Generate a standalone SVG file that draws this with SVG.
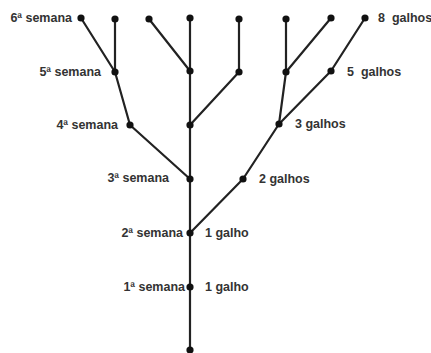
<svg xmlns="http://www.w3.org/2000/svg" width="431" height="353" viewBox="0 0 431 353">
<style>
.e{stroke:#222;stroke-width:2.2;fill:none;stroke-linecap:round}
.n{fill:#111}
text{font-family:"Liberation Sans",Arial,sans-serif;font-weight:bold;font-size:12.5px;fill:#333;dominant-baseline:central;white-space:pre}
.r{text-anchor:end}
</style>
<rect width="431" height="353" fill="#fff"/>
<g id="connectors">
<line class="e" x1="81" y1="18" x2="115" y2="72"/>
<line class="e" x1="115" y1="19" x2="115" y2="72"/>
<line class="e" x1="115" y1="72" x2="130" y2="125"/>
<line class="e" x1="130" y1="125" x2="190" y2="179"/>
<line class="e" x1="149" y1="19" x2="190" y2="71"/>
<line class="e" x1="190" y1="18" x2="190" y2="350"/>
<line class="e" x1="239" y1="19" x2="239" y2="72"/>
<line class="e" x1="239" y1="72" x2="190" y2="125"/>
<line class="e" x1="286" y1="19" x2="286" y2="72"/>
<line class="e" x1="331" y1="18" x2="286" y2="72"/>
<line class="e" x1="286" y1="72" x2="279" y2="124"/>
<line class="e" x1="365" y1="18" x2="331" y2="71"/>
<line class="e" x1="331" y1="71" x2="279" y2="124"/>
<line class="e" x1="279" y1="124" x2="243" y2="179"/>
<line class="e" x1="243" y1="179" x2="190" y2="233"/>
</g>
<g id="n6a"><circle class="n" cx="81" cy="18" r="3.6"/><text class="r" x="72" y="18">6ª semana</text></g>
<g id="n6b"><circle class="n" cx="115" cy="19" r="3.6"/></g>
<g id="n6c"><circle class="n" cx="149" cy="19" r="3.6"/></g>
<g id="n6d"><circle class="n" cx="190" cy="18" r="3.6"/></g>
<g id="n6e"><circle class="n" cx="239" cy="19" r="3.6"/></g>
<g id="n6f"><circle class="n" cx="286" cy="19" r="3.6"/></g>
<g id="n6g"><circle class="n" cx="331" cy="18" r="3.6"/></g>
<g id="n6h"><circle class="n" cx="365" cy="18" r="3.6"/><text x="378" y="18">8&#160; galhos</text></g>
<g id="n5a"><circle class="n" cx="115" cy="72" r="3.6"/><text class="r" x="101" y="72">5ª semana</text></g>
<g id="n5b"><circle class="n" cx="190" cy="71" r="3.6"/></g>
<g id="n5c"><circle class="n" cx="239" cy="72" r="3.6"/></g>
<g id="n5d"><circle class="n" cx="286" cy="72" r="3.6"/></g>
<g id="n5e"><circle class="n" cx="331" cy="71" r="3.6"/><text x="347" y="72">5&#160; galhos</text></g>
<g id="n4a"><circle class="n" cx="130" cy="125" r="3.6"/><text class="r" x="118" y="125">4ª semana</text></g>
<g id="n4b"><circle class="n" cx="190" cy="125" r="3.6"/></g>
<g id="n4c"><circle class="n" cx="279" cy="124" r="3.6"/><text x="295" y="124">3 galhos</text></g>
<g id="n3a"><circle class="n" cx="190" cy="179" r="3.6"/><text class="r" x="169" y="178">3ª semana</text></g>
<g id="n3b"><circle class="n" cx="243" cy="179" r="3.6"/><text x="259" y="179">2 galhos</text></g>
<g id="n2"><circle class="n" cx="190" cy="233" r="3.6"/><text class="r" x="183" y="233">2ª semana</text><text x="205" y="233">1 galho</text></g>
<g id="n1"><circle class="n" cx="190" cy="287" r="3.6"/><text class="r" x="185" y="287">1ª semana</text><text x="205" y="287">1 galho</text></g>
<g id="n0"><circle class="n" cx="190" cy="350" r="3.6"/></g>
</svg>
